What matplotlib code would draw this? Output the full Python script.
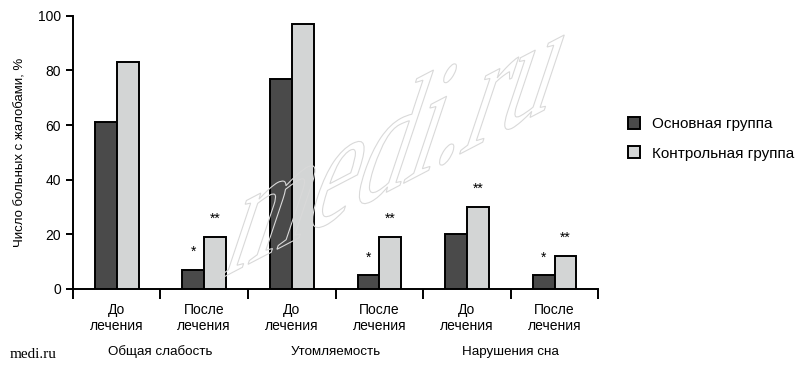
import matplotlib
matplotlib.use("Agg")
import matplotlib.pyplot as plt
from matplotlib.textpath import TextPath
from matplotlib.patches import PathPatch
from matplotlib.font_manager import FontProperties
from matplotlib.transforms import Affine2D, IdentityTransform
import numpy as np

plt.rcParams['font.family'] = ['Liberation Sans', 'DejaVu Sans']

# данные
подписи = ['До\nлечения', 'После\nлечения'] * 3
группы = ['Общая слабость', 'Утомляемость', 'Нарушения сна']
основная = [61, 7, 77, 5, 20, 5]
контрольная = [83, 19, 97, 19, 30, 12]
звезды_осн = ['', '*', '', '*', '', '*']
звезды_контр = ['', '**', '', '**', '**', '**']

fig = plt.figure(figsize=(8, 3.69), dpi=100)
ax = fig.add_axes([0.091, 0.217, 0.657, 0.74])
ax.patch.set_visible(False)

x = np.arange(len(основная)) + 0.5
w = 0.25
ax.bar(x - w / 2, основная, w, color='#4a4a4a', edgecolor='black', linewidth=1.4,
       label='Основная группа', zorder=3)
ax.bar(x + w / 2, контрольная, w, color='#d3d5d5', edgecolor='black', linewidth=1.4,
       label='Контрольная группа', zorder=3)

for xi, v, s in zip(x, основная, звезды_осн):
    if s:
        ax.text(xi - w / 2, v + 4, s, ha='center', va='bottom', fontsize=10)
for xi, v, s in zip(x, контрольная, звезды_контр):
    if s:
        ax.text(xi + w / 2, v + 4, s, ha='center', va='bottom', fontsize=10)

ax.set_xlim(0, 6)
ax.set_ylim(0, 100)
ax.set_yticks(range(0, 101, 20))
ax.tick_params(axis='y', labelsize=10, width=1.4, length=5)
ax.set_xticks(range(0, 7))
ax.set_xticklabels([])
ax.tick_params(axis='x', which='major', width=1.4, length=7)
ax.set_xticks(x, minor=True)
ax.set_xticklabels(подписи, minor=True, fontsize=10, linespacing=1.2)
ax.tick_params(axis='x', which='minor', length=0, pad=10)
for sp in ['top', 'right']:
    ax.spines[sp].set_visible(False)
for sp in ['left', 'bottom']:
    ax.spines[sp].set_linewidth(1.4)
ax.set_ylabel('Число больных с жалобами, %', fontsize=9.5, labelpad=8)

for i, g in enumerate(группы):
    ax.text(2 * i + 1, -0.23, g, transform=ax.get_xaxis_transform(),
            ha='center', va='center', fontsize=9.6)

ax.legend(loc='center left', bbox_to_anchor=(1.03, 0.55), frameon=False,
          fontsize=11, handlelength=0.8, handleheight=0.8, labelspacing=1.0)

# водяной знак (наклонный контурный текст)
tp = TextPath((0, 0), 'medi.ru', size=120,
              prop=FontProperties(family='Liberation Serif'))
u = (0.887, 0.462)
v = (0.317 * 1.5, 0.948 * 1.5)
tr = Affine2D(np.array([[u[0], v[0], 218], [u[1], v[1], 89], [0, 0, 1]]))
wm = PathPatch(tr.transform_path(tp), facecolor='none', edgecolor='#d9d9d9',
               linewidth=0.8, zorder=0)
wm.set_transform(IdentityTransform())
fig.patches.append(wm)
wm.set_figure(fig)

fig.text(0.012, 0.04, 'medi.ru', family='Liberation Serif', fontsize=11, ha='left', va='center')

fig.savefig('out.png', dpi=100)
